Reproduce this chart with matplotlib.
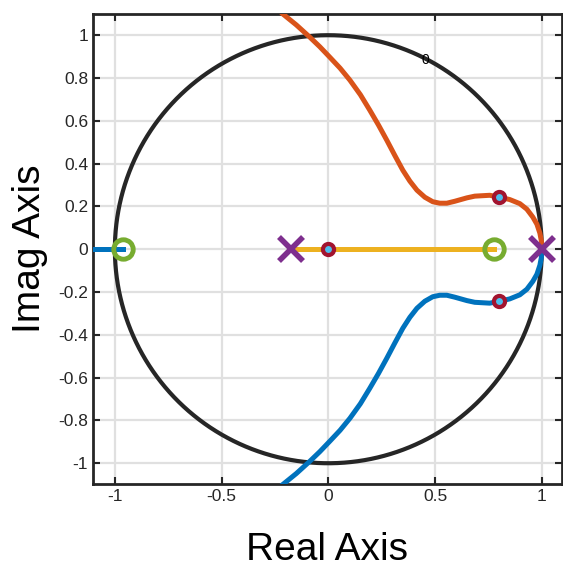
import numpy as np
import matplotlib.pyplot as plt

plt.rcParams['font.family'] = ['Liberation Sans', 'DejaVu Sans']

# open-loop poles / zeros
pole_re = [-0.175, 1.0]
pole_im = [0.0, 0.0]
zero_re = [-0.962, 0.775]
zero_im = [0.0, 0.0]

# closed-loop poles at the chosen gain
cl_re = [0.0, 0.80, 0.80]
cl_im = [0.0, 0.243, -0.243]

# upper complex branch (the lower one is its mirror)
br_re = [-0.25, -0.218, -0.15, -0.087, -0.04, 0.007, 0.055, 0.101, 0.15, 0.194,
         0.235, 0.274, 0.312, 0.349, 0.382, 0.415, 0.452, 0.489, 0.522, 0.555,
         0.592, 0.649, 0.686, 0.756, 0.803, 0.850, 0.897, 0.930, 0.958, 0.977,
         0.991, 0.998, 1.0]
br_im = [1.15, 1.103, 1.048, 0.991, 0.946, 0.897, 0.846, 0.790, 0.722, 0.650,
         0.580, 0.509, 0.437, 0.369, 0.318, 0.276, 0.243, 0.222, 0.215, 0.215,
         0.224, 0.240, 0.248, 0.252, 0.243, 0.232, 0.213, 0.187, 0.150, 0.117,
         0.075, 0.038, 0.0]

# real axis branches
real1_re = [-1.2, -0.962]
real2_re = [-0.175, 0.775]

xticks = [-1, -0.5, 0, 0.5, 1]
yticks = [-1, -0.8, -0.6, -0.4, -0.2, 0, 0.2, 0.4, 0.6, 0.8, 1]

fig = plt.figure(figsize=(5.63, 5.69), dpi=100)
ax = fig.add_axes([0.165, 0.149, 0.833, 0.826])

ax.grid(True, color='#e0e0e0', linewidth=1.6, zorder=0)
ax.set_axisbelow(True)

th = np.linspace(0, 2 * np.pi, 400)
ax.plot(np.cos(th), np.sin(th), color='#262626', linewidth=3, zorder=2)
ax.text(0.454, 0.883, '0', fontsize=10, ha='center', va='center', zorder=3)

lw = 3.6
ax.plot(real1_re, [0, 0], color='#0072BD', linewidth=lw, zorder=3)
ax.plot(real2_re, [0, 0], color='#EDB120', linewidth=lw, zorder=3)
ax.plot(br_re, br_im, color='#D95319', linewidth=lw, zorder=3,
        solid_joinstyle='round')
ax.plot(br_re, [-v for v in br_im], color='#0072BD', linewidth=lw, zorder=3,
        solid_joinstyle='round')

ax.plot(zero_re, zero_im, 'o', markersize=14, markerfacecolor='none',
        markeredgecolor='#77AC30', markeredgewidth=3.5, zorder=4)
ax.plot(pole_re, pole_im, 'x', markersize=17, markeredgecolor='#7E2F8E',
        markeredgewidth=4, zorder=5)
ax.plot(cl_re, cl_im, 'o', markersize=8, markerfacecolor='#4DBEEE',
        markeredgecolor='#A2142F', markeredgewidth=3, zorder=6)

ax.set_xlim(-1.103, 1.094)
ax.set_ylim(-1.098, 1.098)
ax.set_xticks(xticks)
ax.set_xticklabels(['-1', '-0.5', '0', '0.5', '1'])
ax.set_yticks(yticks)
ax.set_yticklabels(['-1', '-0.8', '-0.6', '-0.4', '-0.2', '0', '0.2', '0.4',
                    '0.6', '0.8', '1'])
ax.tick_params(direction='in', length=5, width=1.5, colors='#262626',
               labelsize=12.5, top=True, right=True, labelcolor='#262626')
for s in ax.spines.values():
    s.set_linewidth(2)
    s.set_color('#262626')

ax.set_xlabel('Real Axis', fontsize=28, labelpad=20)
ax.set_ylabel('Imag Axis', fontsize=28, labelpad=7)

fig.savefig('out.png', dpi=100)
